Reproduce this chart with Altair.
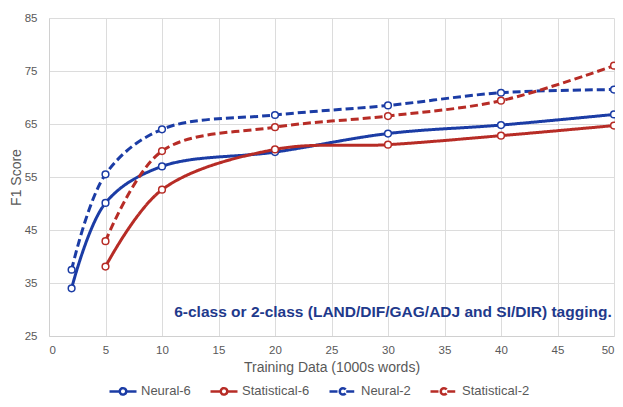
import altair as alt
import pandas as pd

training = [2, 5, 10, 20, 30, 40, 50]
neural_6 = [34.0, 50.1, 57.0, 59.7, 63.2, 64.8, 66.8]
statistical_6 = [None, 38.1, 52.6, 60.2, 61.1, 62.8, 64.7]
neural_2 = [37.5, 55.5, 64.0, 66.7, 68.5, 70.9, 71.5]
statistical_2 = [None, 42.9, 59.9, 64.4, 66.5, 69.4, 76.0]

series_names = ["Neural-6", "Statistical-6", "Neural-2", "Statistical-2"]
series_values = [neural_6, statistical_6, neural_2, statistical_2]
colors = ["#1b3ca5", "#b72c26", "#1b3ca5", "#b72c26"]
dashes = [[1, 0], [1, 0], [8, 4], [8, 4]]

x_ticks = list(range(0, 51, 5))
y_ticks = list(range(25, 86, 10))

annotation_text = ["6-class or 2-class (LAND/DIF/GAG/ADJ and SI/DIR) tagging."]
annotation_x = [49.8]
annotation_y = [29.6]

rows = []
for name, vals in zip(series_names, series_values):
    for x, v in zip(training, vals):
        if v is not None:
            rows.append({"x": x, "y": v, "series": name})
df = pd.DataFrame(rows)

ann = pd.DataFrame({"x": annotation_x, "y": annotation_y, "t": annotation_text})

font = "Liberation Sans"

xenc = alt.X("x:Q", scale=alt.Scale(domain=[0, 50], nice=False),
             axis=alt.Axis(values=x_ticks, title="Training Data (1000s words)",
                           ticks=False, labelPadding=8, titlePadding=5))
yenc = alt.Y("y:Q", scale=alt.Scale(domain=[25, 85], nice=False),
             axis=alt.Axis(values=y_ticks, title="F1 Score", ticks=False,
                           labelPadding=12, titlePadding=1))

legend_path = ("M-1,0H-0.24M0.24,0H1M-0.24,0A0.24,0.24,0,1,1,0.24,0A0.24,0.24,0,1,1,-0.24,0Z")

legend_def = dict(title=None, orient="none", direction="horizontal",
                  legendX=59, legendY=358,
                  symbolType=legend_path, symbolSize=729,
                  symbolStrokeWidth=2.5, symbolFillColor="white",
                  labelFontSize=13, labelColor="#595959", labelFont=font,
                  labelOffset=3, columnPadding=14)

color_enc = alt.Color("series:N", scale=alt.Scale(domain=series_names, range=colors),
                      legend=alt.Legend(**legend_def))
dash_enc = alt.StrokeDash("series:N", scale=alt.Scale(domain=series_names, range=dashes),
                          legend=alt.Legend(**legend_def))

lines = alt.Chart(df).mark_line(interpolate="catmull-rom", strokeWidth=3).encode(
    x=xenc, y=yenc, color=color_enc, strokeDash=dash_enc, detail="series:N")

points = alt.Chart(df).mark_point(filled=False, fill="white", size=45, strokeWidth=1.5, opacity=1).encode(
    x="x:Q", y="y:Q", color=alt.Color("series:N", scale=alt.Scale(domain=series_names, range=colors), legend=None))

text = alt.Chart(ann).mark_text(align="right", baseline="middle", fontSize=15.5, fontWeight="bold",
                                color="#1f3a8c", font=font).encode(x="x:Q", y="y:Q", text="t:N")

chart = alt.layer(lines, points, text).properties(
    width=565, height=318,
    autosize=alt.AutoSizeParams(type="none"),
    padding={"left": 41, "top": 10, "right": 1, "bottom": 63},
).configure_view(strokeWidth=0).configure_axis(
    gridWidth=1, gridColor="#dcdcdc", domainColor="#d0d0d0",
    labelColor="#595959", titleColor="#595959",
    labelFontSize=11.5, titleFontSize=14, titleFontWeight="normal",
    labelFont=font, titleFont=font)

chart.save("out.html", embed_options={"renderer": "svg", "actions": False})
